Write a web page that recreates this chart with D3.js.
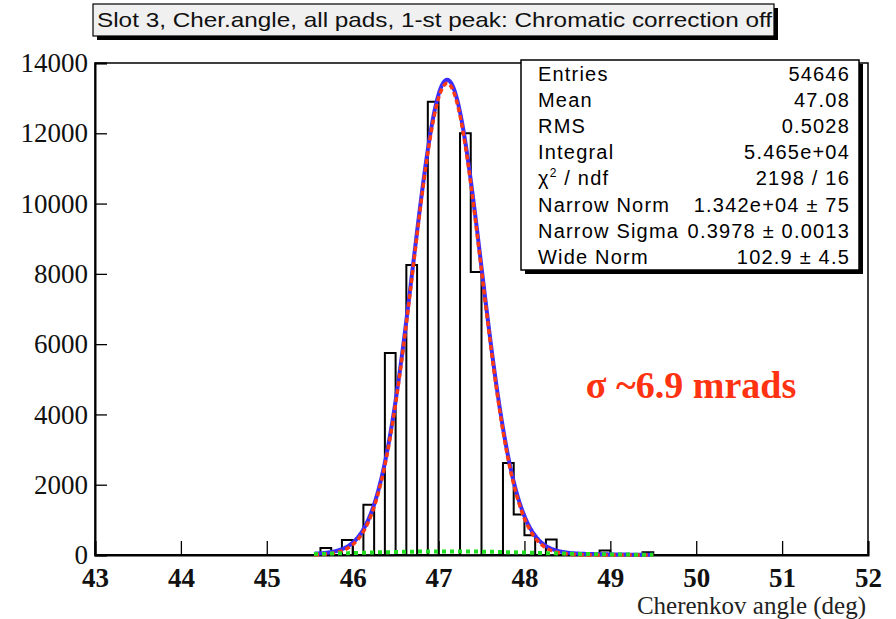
<!DOCTYPE html>
<html>
<head>
<meta charset="utf-8">
<script src="https://cdn.jsdelivr.net/npm/d3@7"></script>
<style>
  body { margin: 0; background: #fff; }
  svg { display: block; }
</style>
</head>
<body>
<svg id="chart"></svg>
<script>
// Histogram: 72 bins of 0.125 deg between 43 and 52 (comb-like, many empty bins)
const histRange = [43, 52];
const binCounts = [
  0, 0, 0, 0, 0, 0, 0, 0, 0, 0,
  0, 0, 0, 0, 0, 0, 0, 0, 0, 0,
  0, 200, 0, 430, 0, 1430, 0, 5750, 0, 8250,
  0, 12900, 0, 0, 12000, 8050, 0, 0, 2620, 1150,
  560, 0, 440, 0, 0, 0, 0, 130, 0, 0,
  0, 80, 0, 0, 0, 0, 0, 0, 0, 0,
  0, 0, 0, 0, 0, 0, 0, 0, 0, 0,
  0, 0
];

// Double gaussian fit (narrow + wide), parameters from the stats box
const fitNorms = [13420, 102.9];
const fitMeans = [47.10, 47.10];
const fitSigmas = [0.3978, 1.0];
const fitRange = [45.55, 49.5];

const xTicks = d3.range(43, 53);
const yTicks = d3.range(0, 14001, 2000);

const statLabels = ['Entries', 'Mean', 'RMS', 'Integral', 'chi2', 'Narrow Norm', 'Narrow Sigma', 'Wide Norm'];
const statValues = ['54646', '47.08', '0.5028', '5.465e+04', '2198 / 16', '1.342e+04 \u00b1 75', '0.3978 \u00b1 0.0013', '102.9 \u00b1 4.5'];

const titleText = 'Slot 3, Cher.angle, all pads, 1-st peak: Chromatic correction off';
const xTitle = 'Cherenkov angle (deg)';
const noteText = '\u03c3 ~6.9 mrads';

const width = 896, height = 619;
const svg = d3.select('#chart').attr('width', width).attr('height', height);

const x = d3.scaleLinear().domain(histRange).range([95, 868]);
const y = d3.scaleLinear().domain([0, 14000]).range([555, 63]);

const serif = '"Liberation Serif", "Times New Roman", serif';
const sans = '"Liberation Sans", Arial, Helvetica, sans-serif';

// frame
svg.append('rect')
    .attr('x', x(43)).attr('y', y(14000))
    .attr('width', x(52) - x(43)).attr('height', y(0) - y(14000))
    .attr('fill', 'none').attr('stroke', '#000').attr('stroke-width', 1.5);

// x axis (major + minor ticks pointing inside)
const gx = svg.append('g').attr('transform', `translate(0,${y(0)})`);
gx.call(d3.axisBottom(x).tickValues(d3.range(43, 52.01, 0.2)).tickSize(-7).tickFormat(''));
gx.call(d3.axisBottom(x).tickValues(xTicks).tickSize(-14).tickFormat(d3.format('d')));
gx.selectAll('.domain').attr('stroke-width', 2);
gx.selectAll('line').attr('stroke-width', 1.3);
gx.selectAll('text')
    .attr('y', 32).attr('dy', 0)
    .attr('font-family', serif).attr('font-size', 27).attr('font-weight', 'bold')
    .attr('fill', '#111');

// y axis
const gy = svg.append('g').attr('transform', `translate(${x(43)},0)`);
gy.call(d3.axisLeft(y).tickValues(d3.range(0, 14001, 400)).tickSize(-6).tickFormat(''));
gy.call(d3.axisLeft(y).tickValues(yTicks).tickSize(-12).tickFormat(d3.format('d')));
gy.selectAll('.domain').attr('stroke-width', 2);
gy.selectAll('line').attr('stroke-width', 1.3);
gy.selectAll('text')
    .attr('x', -7)
    .attr('font-family', serif).attr('font-size', 27)
    .attr('fill', '#111');

svg.append('text')
    .attr('x', 866).attr('y', 614)
    .attr('text-anchor', 'end')
    .attr('font-family', serif).attr('font-size', 25)
    .attr('fill', '#222')
    .text(xTitle);

// histogram outline
const binWidth = (histRange[1] - histRange[0]) / binCounts.length;
const histPts = [[histRange[0], 0]];
binCounts.forEach((c, i) => histPts.push([histRange[0] + i * binWidth, c]));
histPts.push([histRange[1], 0]);

svg.append('path')
    .datum(histPts)
    .attr('fill', 'none')
    .attr('stroke', '#000')
    .attr('stroke-width', 2)
    .attr('d', d3.line().x(d => x(d[0])).y(d => y(d[1])).curve(d3.curveStepAfter));

// fit curves
const gauss = (v, i) => fitNorms[i] * Math.exp(-0.5 * Math.pow((v - fitMeans[i]) / fitSigmas[i], 2));
const xs = d3.range(fitRange[0], fitRange[1] + 1e-9, 0.01);
const fitLine = d3.line().x(d => x(d[0])).y(d => y(d[1]));

svg.append('path')
    .datum(xs.map(v => [v, gauss(v, 0) + gauss(v, 1)]))
    .attr('fill', 'none').attr('stroke', '#3a2cff').attr('stroke-width', 4)
    .attr('d', fitLine);

svg.append('path')
    .datum(xs.map(v => [v, gauss(v, 0)]))
    .attr('fill', 'none').attr('stroke', '#ff3a10').attr('stroke-width', 3.5)
    .attr('stroke-dasharray', '5,3')
    .attr('d', fitLine);

svg.append('path')
    .datum(xs.map(v => [v, gauss(v, 1)]))
    .attr('fill', 'none').attr('stroke', '#22dd22').attr('stroke-width', 4)
    .attr('stroke-dasharray', '4,4')
    .attr('d', fitLine);

// sigma note
svg.append('text')
    .attr('x', 691).attr('y', 398)
    .attr('text-anchor', 'middle')
    .attr('font-family', serif).attr('font-size', 38).attr('font-weight', 'bold')
    .attr('fill', '#ff3311')
    .text(noteText);

// stats box
const sb = { x: 521, y: 60, w: 338, h: 210 };
svg.append('rect').attr('x', sb.x + 4).attr('y', sb.y + 4).attr('width', sb.w).attr('height', sb.h).attr('fill', '#000');
svg.append('rect').attr('x', sb.x).attr('y', sb.y).attr('width', sb.w).attr('height', sb.h)
    .attr('fill', '#fff').attr('stroke', '#000').attr('stroke-width', 1.5);

const gs = svg.append('g')
    .attr('font-family', sans).attr('font-size', 20)
    .attr('letter-spacing', 1.2).attr('fill', '#000');
statLabels.forEach((lab, i) => {
    const ty = 81 + i * 26.1;
    const t = gs.append('text').attr('x', 538).attr('y', ty);
    if (lab === 'chi2') {
        t.append('tspan').text('\u03c7');
        t.append('tspan').attr('dy', -8).attr('font-size', 12).text('2');
        t.append('tspan').attr('dy', 8).text(' / ndf');
    } else {
        t.text(lab);
    }
    gs.append('text').attr('x', 850).attr('y', ty)
        .attr('text-anchor', 'end')
        .text(statValues[i]);
});

// title box
const tb = { x: 93, y: 4, w: 681, h: 32 };
svg.append('rect').attr('x', tb.x + 4).attr('y', tb.y + 4).attr('width', tb.w).attr('height', tb.h).attr('fill', '#000');
svg.append('rect').attr('x', tb.x).attr('y', tb.y).attr('width', tb.w).attr('height', tb.h)
    .attr('fill', '#f0f0f0').attr('stroke', '#000').attr('stroke-width', 1.2);
svg.append('text')
    .attr('x', 97).attr('y', 27)
    .attr('font-family', sans).attr('font-size', 21)
    .attr('textLength', 675).attr('lengthAdjust', 'spacingAndGlyphs')
    .attr('fill', '#111')
    .text(titleText);
</script>
</body>
</html>
